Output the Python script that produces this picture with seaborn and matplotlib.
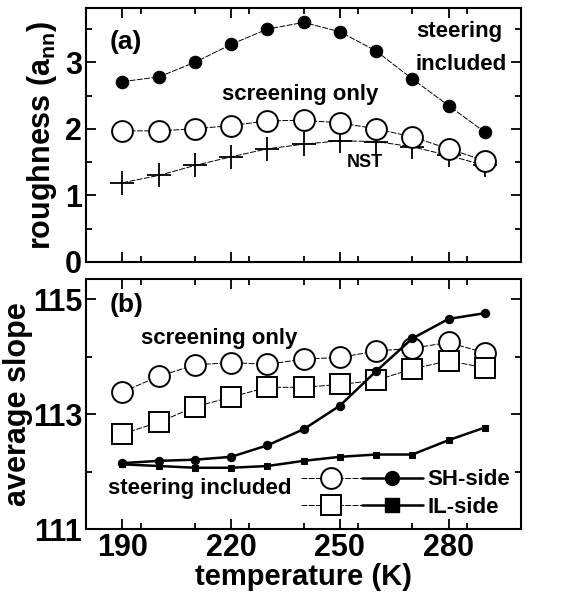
import numpy as np
import pandas as pd
import seaborn as sns
import matplotlib.pyplot as plt
from matplotlib.ticker import MultipleLocator
from matplotlib.legend_handler import HandlerTuple
from matplotlib.lines import Line2D

# temperatures (K)
temps = [190, 200, 210, 220, 230, 240, 250, 260, 270, 280, 290]

# (a) roughness in units of a_nn
rough_steering = [2.71, 2.78, 3.00, 3.27, 3.50, 3.60, 3.46, 3.17, 2.75, 2.35, 1.95]
rough_screening = [1.97, 1.97, 2.00, 2.05, 2.12, 2.13, 2.09, 2.00, 1.88, 1.70, 1.52]
rough_nst = [1.19, 1.30, 1.45, 1.58, 1.70, 1.77, 1.82, 1.81, 1.73, 1.60, 1.45]

# (b) average slope
sh_screening = [113.39, 113.66, 113.86, 113.90, 113.87, 113.96, 113.99, 114.10, 114.15, 114.25, 114.07]
il_screening = [112.66, 112.86, 113.13, 113.30, 113.47, 113.47, 113.52, 113.59, 113.79, 113.93, 113.81]
sh_steering = [112.15, 112.19, 112.21, 112.26, 112.46, 112.74, 113.15, 113.75, 114.32, 114.66, 114.76]
il_steering = [112.13, 112.10, 112.07, 112.07, 112.10, 112.19, 112.26, 112.30, 112.30, 112.55, 112.77]

x_ticks = [190, 220, 250, 280]
rough_ticks = [0, 1, 2, 3]
slope_ticks = [111, 113, 115]

sns.set_style("ticks")
plt.rcParams["font.family"] = ["Liberation Sans", "DejaVu Sans"]
plt.rcParams["font.weight"] = "bold"
for k in ("text.color", "axes.labelcolor", "xtick.color", "ytick.color", "axes.edgecolor"):
    plt.rcParams[k] = "black"
plt.rcParams["mathtext.fontset"] = "custom"
plt.rcParams["mathtext.rm"] = "Liberation Sans:bold"
plt.rcParams["mathtext.bf"] = "Liberation Sans:bold"
plt.rcParams["mathtext.default"] = "bf"

fig = plt.figure(figsize=(5.67, 5.98), dpi=100)
ax1 = fig.add_axes([0.152, 0.562, 0.767, 0.425])
ax2 = fig.add_axes([0.152, 0.115, 0.767, 0.418])

thin = dict(color="black", lw=0.7, linestyle=(0, (6, 1.5)))

# ---- panel (a) ----
sns.lineplot(x=temps, y=rough_steering, ax=ax1, marker="o", ms=9, mfc="black",
             mec="black", **thin)
sns.lineplot(x=temps, y=rough_nst, ax=ax1, marker="+", ms=17, mew=1.3, mec="black", **thin)
sns.lineplot(x=temps, y=rough_screening, ax=ax1, marker="o", ms=15, mfc="white",
             mec="black", mew=1.4, **thin)

ax1.set_xlim(180, 300)
ax1.set_ylim(0, 3.82)
ax1.set_ylabel("roughness (a$_{nn}$)", fontsize=22, fontweight="bold", labelpad=4)
ax1.tick_params(labelbottom=False)
ax1.set_yticks(rough_ticks)
ax1.yaxis.set_minor_locator(MultipleLocator(0.5))

ax1.text(186.5, 3.31, "(a)", fontsize=19, va="center")
ax1.text(271, 3.46, "steering", fontsize=16, va="center")
ax1.text(271, 2.96, "included", fontsize=16, va="center")
ax1.text(239, 2.51, "screening only", fontsize=16, va="center", ha="center")
ax1.text(256.8, 1.49, "NST", fontsize=13, va="center", ha="center")

# ---- panel (b) ----
sns.lineplot(x=temps, y=sh_screening, ax=ax2, marker="o", ms=15, mfc="white",
             mec="black", mew=1.4, **thin)
sns.lineplot(x=temps, y=il_screening, ax=ax2, marker="s", ms=15, mfc="white",
             mec="black", mew=1.4, **thin)
sns.lineplot(x=temps, y=sh_steering, ax=ax2, marker="o", ms=6, color="black",
             mec="black", lw=1.8)
sns.lineplot(x=temps, y=il_steering, ax=ax2, marker="s", ms=5, color="black",
             mec="black", lw=1.8)

ax2.set_xlim(180, 300)
ax2.set_ylim(111, 115.35)
ax2.set_ylabel("average slope", fontsize=22, fontweight="bold", labelpad=0)
ax2.set_xlabel("temperature (K)", fontsize=21, fontweight="bold", labelpad=0)
ax2.set_yticks(slope_ticks)
ax2.yaxis.set_minor_locator(MultipleLocator(1))

ax2.text(186.6, 114.9, "(b)", fontsize=19, va="center")
ax2.text(216.6, 114.32, "screening only", fontsize=16, va="center", ha="center")
ax2.text(211.4, 111.71, "steering included", fontsize=16, va="center", ha="center")

h_sh_o = Line2D([], [], marker="o", ms=15, mfc="white", mec="black", mew=1.4, **thin)
h_sh_f = Line2D([], [], marker="o", ms=10, color="black", lw=1.8)
h_il_o = Line2D([], [], marker="s", ms=15, mfc="white", mec="black", mew=1.4, **thin)
h_il_f = Line2D([], [], marker="s", ms=10, color="black", lw=1.8)
ax2.legend([(h_sh_o, h_sh_f), (h_il_o, h_il_f)], ["SH-side", "IL-side"],
           handler_map={tuple: HandlerTuple(ndivide=None, pad=0.0)},
           handlelength=5.5, handletextpad=0.2, frameon=False, loc="lower right",
           borderaxespad=0.1, labelspacing=0.3, prop=dict(size=16, weight="bold"))

for ax in (ax1, ax2):
    ax.set_xticks(x_ticks)
    ax.xaxis.set_minor_locator(MultipleLocator(15))
    ax.tick_params(which="both", direction="in", top=True, right=True, width=1.3)
    ax.tick_params(which="major", length=7, labelsize=22, pad=3)
    ax.tick_params(which="minor", length=4)
    for lab in ax.get_xticklabels() + ax.get_yticklabels():
        lab.set_fontweight("bold")
    for s in ax.spines.values():
        s.set_linewidth(1.5)
        s.set_visible(True)

plt.savefig("out.png", dpi=100)
